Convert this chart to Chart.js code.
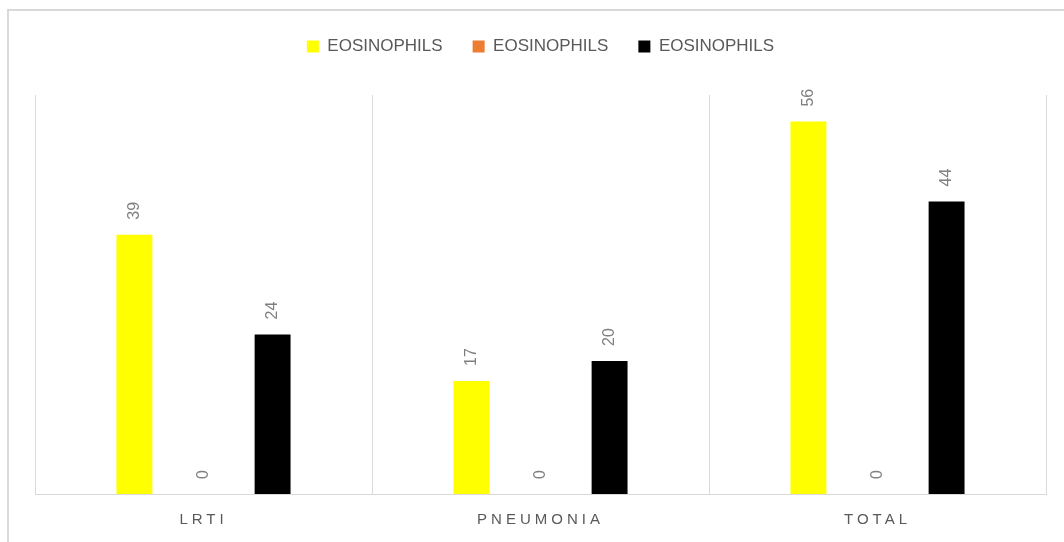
<!DOCTYPE html>
<html>
<head>
<meta charset="utf-8">
<title>Eosinophils</title>
<script src="https://cdn.jsdelivr.net/npm/chart.js@4/dist/chart.umd.min.js"></script>
<style>
  html, body { margin: 0; padding: 0; background: #fff; }
  #wrap { position: relative; width: 1064px; height: 542px; }
</style>
</head>
<body>
<div id="wrap"><canvas id="eosChart"></canvas></div>
<script>
const categories = ["LRTI", "PNEUMONIA", "TOTAL"];
const seriesNames = ["EOSINOPHILS", "EOSINOPHILS", "EOSINOPHILS"];
const yellowValues = [39, 17, 56];
const orangeValues = [0, 0, 0];
const blackValues = [24, 20, 44];
const yMax = 60;

const fontName = "'Liberation Sans', Arial, sans-serif";
const textGrey = "#595959";

// outer frame of the chart box (only left and top edges are in view)
const framePlugin = {
  id: "frame",
  beforeDraw(chart) {
    const ctx = chart.ctx;
    ctx.save();
    ctx.strokeStyle = "#d9d9d9";
    ctx.lineWidth = 2;
    ctx.strokeRect(8, 10, 1200, 700);
    ctx.restore();
  }
};

// extra gap between legend and plot area
const legendGap = {
  id: "legendGap",
  beforeLayout(chart) {
    const lg = chart.legend;
    if (!lg || lg._gapped) return;
    const fit = lg.fit.bind(lg);
    lg.fit = function () {
      fit();
      this.height += 30;
    };
    lg._gapped = true;
  }
};

// letter-spaced category labels
const spacedTicks = {
  id: "spacedTicks",
  afterLayout(chart) {
    const sx = chart.scales.x;
    if (!sx || sx._spaced) return;
    const orig = sx.drawLabels.bind(sx);
    sx.drawLabels = function (area) {
      chart.ctx.save();
      chart.ctx.letterSpacing = "4px";
      orig(area);
      chart.ctx.restore();
    };
    sx._spaced = true;
  }
};

// rotated value labels above each bar
const valueLabels = {
  id: "valueLabels",
  afterDatasetsDraw(chart) {
    const ctx = chart.ctx;
    ctx.save();
    ctx.font = "16px " + fontName;
    ctx.fillStyle = "#7f7f7f";
    ctx.textAlign = "left";
    ctx.textBaseline = "middle";
    chart.data.datasets.forEach(function (ds, i) {
      chart.getDatasetMeta(i).data.forEach(function (bar, j) {
        ctx.save();
        ctx.translate(bar.x, bar.y - 15);
        ctx.rotate(-Math.PI / 2);
        ctx.fillText(String(ds.data[j]), 0, 0);
        ctx.restore();
      });
    });
    ctx.restore();
  }
};

document.addEventListener("DOMContentLoaded", function () {
  const canvas = document.getElementById("eosChart");

  new Chart(canvas, {
    type: "bar",
    data: {
      labels: categories,
      datasets: [
        { label: seriesNames[0], data: yellowValues, backgroundColor: "#ffff00" },
        { label: seriesNames[1], data: orangeValues, backgroundColor: "#ed7d31" },
        { label: seriesNames[2], data: blackValues, backgroundColor: "#000000" }
      ]
    },
    options: {
      responsive: true,
      maintainAspectRatio: false,
      animation: false,
      categoryPercentage: 0.615,
      barPercentage: 0.52,
      layout: { padding: { top: 8, left: 35, right: 18, bottom: -4 } },
      plugins: {
        legend: {
          position: "top",
          labels: {
            boxWidth: 12,
            boxHeight: 12,
            padding: 30,
            color: textGrey,
            font: { family: fontName, size: 17 }
          }
        },
        tooltip: { enabled: false }
      },
      scales: {
        x: {
          grid: {
            offset: true,
            color: "#d9d9d9",
            drawTicks: false,
            tickLength: 0
          },
          border: { color: "#d9d9d9" },
          ticks: {
            color: textGrey,
            padding: 17,
            font: { family: fontName, size: 15 }
          }
        },
        y: {
          display: false,
          min: 0,
          max: yMax
        }
      }
    },
    plugins: [framePlugin, legendGap, spacedTicks, valueLabels]
  });
});
</script>
</body>
</html>
